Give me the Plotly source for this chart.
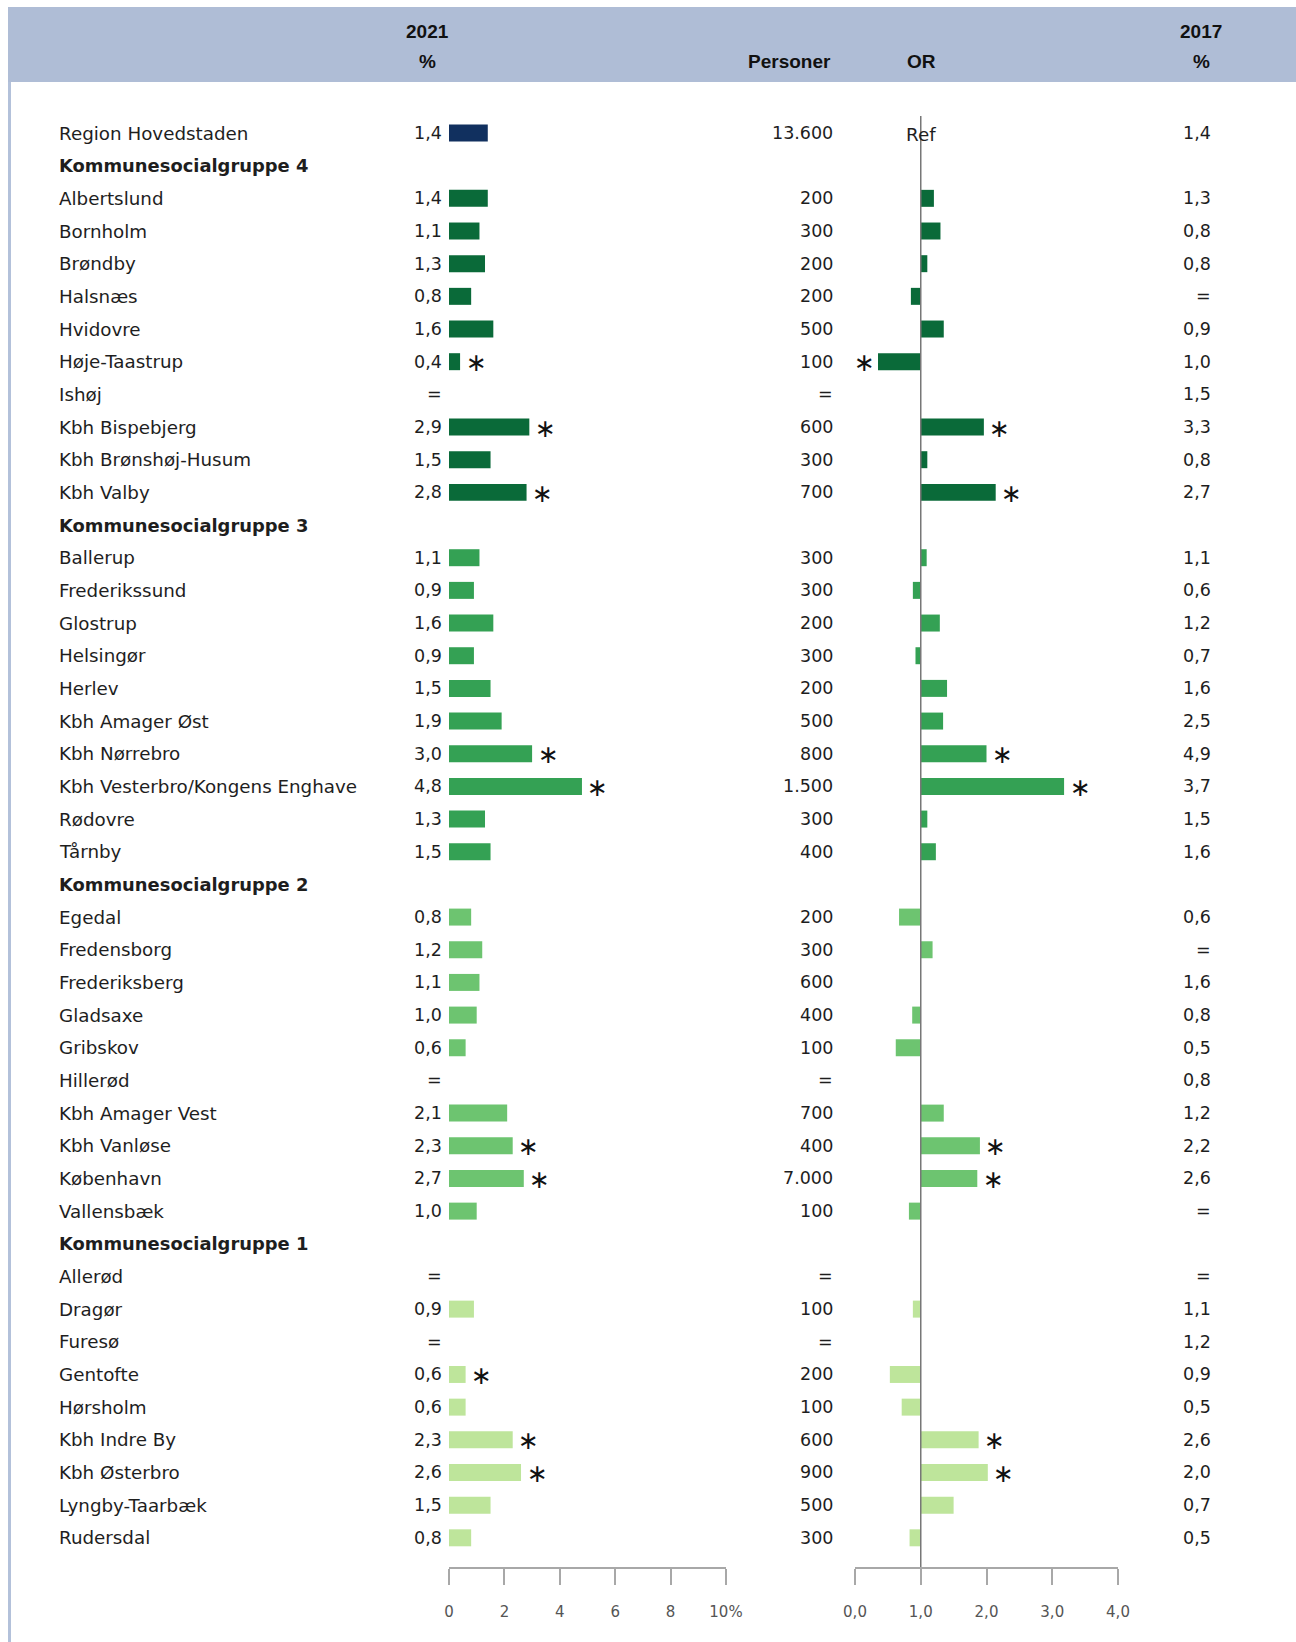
import plotly.graph_objects as go

# ---------------- data ----------------
labels = ["Region Hovedstaden", "Kommunesocialgruppe 4", "Albertslund", "Bornholm", "Brøndby", "Halsnæs",
          "Hvidovre", "Høje-Taastrup", "Ishøj", "Kbh Bispebjerg", "Kbh Brønshøj-Husum", "Kbh Valby",
          "Kommunesocialgruppe 3", "Ballerup", "Frederikssund", "Glostrup", "Helsingør", "Herlev",
          "Kbh Amager Øst", "Kbh Nørrebro", "Kbh Vesterbro/Kongens Enghave", "Rødovre", "Tårnby",
          "Kommunesocialgruppe 2", "Egedal", "Fredensborg", "Frederiksberg", "Gladsaxe", "Gribskov",
          "Hillerød", "Kbh Amager Vest", "Kbh Vanløse", "København", "Vallensbæk",
          "Kommunesocialgruppe 1", "Allerød", "Dragør", "Furesø", "Gentofte", "Hørsholm",
          "Kbh Indre By", "Kbh Østerbro", "Lyngby-Taarbæk", "Rudersdal"]

group = [0,
         4, 4, 4, 4, 4, 4, 4, 4, 4, 4, 4,
         3, 3, 3, 3, 3, 3, 3, 3, 3, 3, 3,
         2, 2, 2, 2, 2, 2, 2, 2, 2, 2, 2,
         1, 1, 1, 1, 1, 1, 1, 1, 1, 1]

pct2021 = [1.4,
           None, 1.4, 1.1, 1.3, 0.8, 1.6, 0.4, None, 2.9, 1.5, 2.8,
           None, 1.1, 0.9, 1.6, 0.9, 1.5, 1.9, 3.0, 4.8, 1.3, 1.5,
           None, 0.8, 1.2, 1.1, 1.0, 0.6, None, 2.1, 2.3, 2.7, 1.0,
           None, None, 0.9, None, 0.6, 0.6, 2.3, 2.6, 1.5, 0.8]

personer = [13600,
            None, 200, 300, 200, 200, 500, 100, None, 600, 300, 700,
            None, 300, 300, 200, 300, 200, 500, 800, 1500, 300, 400,
            None, 200, 300, 600, 400, 100, None, 700, 400, 7000, 100,
            None, None, 100, None, 200, 100, 600, 900, 500, 300]

odds_ratio = [None,
              None, 1.2, 1.3, 1.1, 0.85, 1.35, 0.35, None, 1.96, 1.1, 2.14,
              None, 1.09, 0.88, 1.29, 0.92, 1.4, 1.34, 2.0, 3.18, 1.1, 1.23,
              None, 0.67, 1.18, 0.99, 0.87, 0.62, None, 1.35, 1.9, 1.86, 0.82,
              None, None, 0.88, None, 0.53, 0.71, 1.88, 2.02, 1.5, 0.83]

pct2017 = [1.4,
           None, 1.3, 0.8, 0.8, None, 0.9, 1.0, 1.5, 3.3, 0.8, 2.7,
           None, 1.1, 0.6, 1.2, 0.7, 1.6, 2.5, 4.9, 3.7, 1.5, 1.6,
           None, 0.6, None, 1.6, 0.8, 0.5, 0.8, 1.2, 2.2, 2.6, None,
           None, None, 1.1, 1.2, 0.9, 0.5, 2.6, 2.0, 0.7, 0.5]

sig_2021 = ["Høje-Taastrup", "Kbh Bispebjerg", "Kbh Valby", "Kbh Nørrebro",
            "Kbh Vesterbro/Kongens Enghave", "Kbh Vanløse", "København", "Gentofte",
            "Kbh Indre By", "Kbh Østerbro"]
sig_or = ["Høje-Taastrup", "Kbh Bispebjerg", "Kbh Valby", "Kbh Nørrebro",
          "Kbh Vesterbro/Kongens Enghave", "Kbh Vanløse", "København",
          "Kbh Indre By", "Kbh Østerbro"]

pct_ticks = [0, 2, 4, 6, 8, 10]
pct_ticktext = ["0", "2", "4", "6", "8", "10%"]
or_ticks = [0, 1, 2, 3, 4]
or_ticktext = ["0,0", "1,0", "2,0", "3,0", "4,0"]

# ---------------- style ----------------
W, H = 1296, 1642
AXIS_Y = 1567
ROW0_Y = 133
ROW_STEP = 32.67
group_colors = {0: "#11305F", 4: "#0A6A39", 3: "#34A154", 2: "#6DC470", 1: "#BEE59B"}
TXT = "#1E1E1E"
FONT = "DejaVu Sans"
FS = 17.5        # numbers
FS_LAB = 18.3    # row labels
FS_BOLD = 17.9   # group headers


def px_x(p):
    return p / W


def px_y(p):
    return (H - p) / H


def fmt(v):
    return f"{v:.1f}".replace(".", ",")


def fmt_int(v):
    return f"{v:,}".replace(",", ".")


rows = list(range(len(labels)))
is_header = [l.startswith("Kommunesocialgruppe") for l in labels]
colors = [group_colors[g] for g in group]

fig = go.Figure()

# 2021 % bars
fig.add_trace(go.Bar(
    y=rows, x=pct2021, orientation="h", width=[0.52] * len(rows),
    marker=dict(color=colors, line=dict(width=0)),
    xaxis="x", yaxis="y", hoverinfo="skip", showlegend=False))

# OR bars (relative to 1.0)
or_x = [None if v is None else v - 1 for v in odds_ratio]
fig.add_trace(go.Bar(
    y=rows, x=or_x, base=[1] * len(rows), orientation="h", width=[0.52] * len(rows),
    marker=dict(color=colors, line=dict(width=0)),
    xaxis="x2", yaxis="y", hoverinfo="skip", showlegend=False))

ann = []
for i, lab in enumerate(labels):
    ann.append(dict(x=px_x(57), xref="paper", y=i, yref="y", text=lab, showarrow=False,
                    xanchor="left", yanchor="middle",
                    font=dict(family=FONT, size=FS_BOLD if is_header[i] else FS_LAB, color=TXT,
                              weight="bold" if is_header[i] else "normal")))
    if is_header[i]:
        continue
    # 2021 %
    t = "=" if pct2021[i] is None else fmt(pct2021[i])
    ann.append(dict(x=px_x(444), xref="paper", y=i, yref="y", text=t, showarrow=False,
                    xanchor="right", yanchor="middle", font=dict(family=FONT, size=FS, color=TXT)))
    # Personer
    t = "=" if personer[i] is None else fmt_int(personer[i])
    ann.append(dict(x=px_x(835), xref="paper", y=i, yref="y", text=t, showarrow=False,
                    xanchor="right", yanchor="middle", font=dict(family=FONT, size=FS, color=TXT)))
    # 2017 %
    t = "=" if pct2017[i] is None else fmt(pct2017[i])
    ann.append(dict(x=px_x(1213), xref="paper", y=i, yref="y", text=t, showarrow=False,
                    xanchor="right", yanchor="middle", font=dict(family=FONT, size=FS, color=TXT)))
    # asterisks
    if lab in sig_2021 and pct2021[i] is not None:
        ann.append(dict(x=pct2021[i], xref="x", y=i, yref="y", text="∗", showarrow=False,
                        xanchor="center", yanchor="middle", xshift=16, yshift=-1,
                        font=dict(family=FONT, size=25, color="#111")))
    if lab in sig_or and odds_ratio[i] is not None:
        sh = 16 if odds_ratio[i] > 1 else -14
        ann.append(dict(x=odds_ratio[i], xref="x2", y=i, yref="y", text="∗", showarrow=False,
                        xanchor="center", yanchor="middle", xshift=sh, yshift=-1,
                        font=dict(family=FONT, size=25, color="#111")))

# Ref label
ann.append(dict(x=1, xref="x2", y=0, yref="y", text="Ref", showarrow=False,
                xanchor="center", yanchor="middle", yshift=-1,
                font=dict(family=FONT, size=FS_LAB, color=TXT)))

# Header
HF = dict(family="Liberation Sans", size=19, color="#111", weight="bold")
for txt, xp, yp in [("2021", 427, 31), ("%", 427, 61), ("Personer", 789, 61),
                    ("OR", 921, 61), ("2017", 1201, 31), ("%", 1201, 61)]:
    ann.append(dict(x=px_x(xp), xref="paper", y=px_y(yp), yref="paper", text=txt,
                    showarrow=False, xanchor="center", yanchor="middle", font=HF))

shapes = [
    dict(type="rect", xref="paper", yref="paper", x0=px_x(8), x1=1, y0=px_y(82), y1=px_y(7),
         fillcolor="#AFBDD6", line=dict(width=0), layer="below"),
    dict(type="rect", xref="paper", yref="paper", x0=px_x(8), x1=px_x(11), y0=0, y1=px_y(82),
         fillcolor="#B3C1DA", line=dict(width=0), layer="below"),
    dict(type="line", xref="x2", yref="paper", x0=1, x1=1, y0=px_y(AXIS_Y), y1=px_y(116),
         line=dict(color="#777777", width=1.5)),
]

axis_common = dict(showgrid=False, zeroline=False, showline=True, linecolor="#A8A8A8", linewidth=2,
                   ticks="outside", ticklen=16, tickwidth=2, tickcolor="#A8A8A8",
                   tickfont=dict(family=FONT, size=15, color="#555555"), ticklabelstandoff=14,
                   fixedrange=True, automargin=False)

fig.update_layout(
    template="none",
    width=W, height=H, autosize=False,
    margin=dict(l=0, r=0, t=0, b=0, pad=0, autoexpand=False),
    paper_bgcolor="white", plot_bgcolor="white",
    barmode="overlay",
    xaxis=dict(domain=[px_x(449), px_x(726)], range=[0, 10], anchor="y",
               tickvals=pct_ticks, ticktext=pct_ticktext, **axis_common),
    xaxis2=dict(domain=[px_x(855), px_x(1118)], range=[0, 4], anchor="y",
                tickvals=or_ticks, ticktext=or_ticktext, **axis_common),
    yaxis=dict(domain=[px_y(AXIS_Y), 1],
               range=[(AXIS_Y - ROW0_Y) / ROW_STEP, -ROW0_Y / ROW_STEP],
               visible=False, fixedrange=True, automargin=False),
    annotations=ann,
    shapes=shapes,
)

fig.write_html("out.html", config={"displayModeBar": False, "responsive": False},
               post_script="document.body.style.margin='0';document.body.style.padding='0';"
                           "document.body.style.overflow='hidden';")
